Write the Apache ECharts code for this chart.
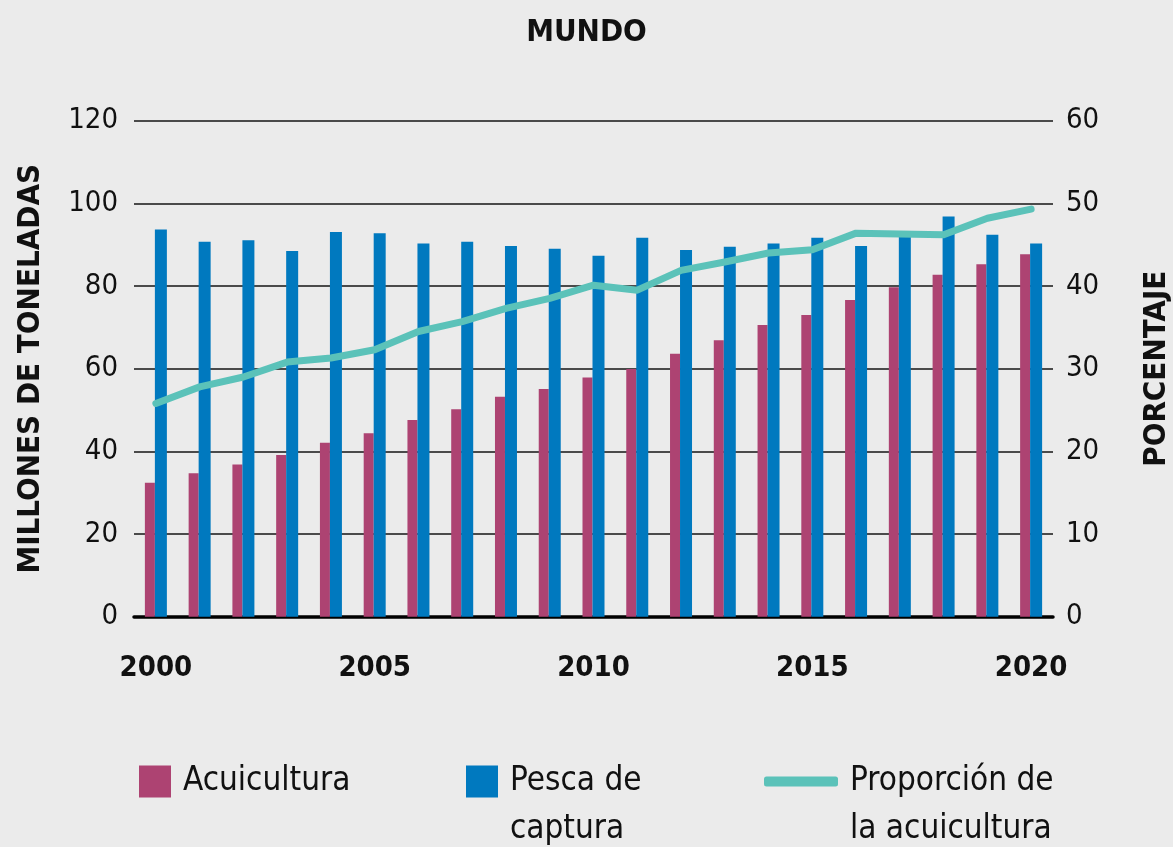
<!DOCTYPE html>
<html>
<head>
<meta charset="utf-8">
<title>Mundo</title>
<script src="https://cdn.jsdelivr.net/npm/echarts@6/dist/echarts.min.js"></script>
<style>
  html, body { margin: 0; padding: 0; background: #ebebeb; }
  #chart { width: 1173px; height: 847px; }
</style>
</head>
<body>
<div id="chart"></div>
<script>
// datos
const years = ['2000', '2001', '2002', '2003', '2004', '2005', '2006', '2007', '2008', '2009', '2010',
  '2011', '2012', '2013', '2014', '2015', '2016', '2017', '2018', '2019', '2020']
const acuicultura = [32.4, 34.7, 36.8, 39.1, 42.1, 44.4, 47.6, 50.2, 53.2, 55.1, 57.9,
  59.9, 63.6, 66.9, 70.6, 73.0, 76.6, 79.7, 82.7, 85.3, 87.7]
const pesca = [93.7, 90.7, 91.1, 88.5, 93.1, 92.8, 90.3, 90.7, 89.7, 89.0, 87.3,
  91.7, 88.7, 89.5, 90.3, 91.7, 89.7, 93.2, 96.8, 92.4, 90.3]
const proporcion = [25.8, 27.8, 29.0, 30.8, 31.3, 32.3, 34.5, 35.7, 37.3, 38.5, 40.1,
  39.5, 41.9, 42.9, 44.0, 44.4, 46.4, 46.3, 46.2, 48.2, 49.3]

const font = '"Liberation Sans Narrow", "DejaVu Sans Condensed", sans-serif'
const pink = '#ad4372'
const blue = '#0079bf'
const teal = '#5bc2b9'
const legendSize = 33

let myChart = echarts.init(document.getElementById('chart'))

function legendText() {
  return { fontFamily: font, fontSize: legendSize, color: '#111', padding: [0, 0, 0, 7] }
}

// segunda linea de las leyendas de dos lineas
function secondLine(text, x) {
  return {
    type: 'text', left: x, top: 813,
    style: { text: text, fontFamily: font, fontSize: legendSize, fill: '#111' }
  }
}

myChart.setOption({
  backgroundColor: '#ebebeb',
  animation: false,
  title: {
    text: 'MUNDO', left: 'center', top: 12,
    textStyle: { fontFamily: font, fontSize: 31, fontWeight: 'bold', color: '#111' }
  },
  legend: [
    {
      data: [{ name: 'Acuicultura', icon: 'rect' }],
      left: 134, top: 760, itemWidth: 32, itemHeight: 32,
      selectedMode: false, textStyle: legendText()
    },
    {
      data: [{ name: 'Pesca de captura', icon: 'rect' }],
      formatter: function () { return 'Pesca de' },
      left: 461, top: 760, itemWidth: 32, itemHeight: 32,
      selectedMode: false, textStyle: legendText()
    },
    {
      data: [{ name: 'Proporción de la acuicultura', icon: 'roundRect' }],
      formatter: function () { return 'Proporción de' },
      left: 759, top: 760, itemWidth: 74, itemHeight: 10,
      selectedMode: false, textStyle: legendText()
    }
  ],
  graphic: [
    secondLine('captura', 510),
    secondLine('la acuicultura', 850)
  ],
  grid: { left: 134, right: 120, top: 120.7, bottom: 230.3, outerBoundsMode: 'none' },
  xAxis: {
    type: 'category',
    data: years,
    axisTick: { show: false },
    axisLine: { lineStyle: { color: '#000', width: 3.5 } },
    axisLabel: {
      interval: 4, margin: 37,
      fontFamily: font, fontSize: 29, fontWeight: 'bold', color: '#111'
    }
  },
  yAxis: [
    {
      type: 'value', min: 0, max: 120, interval: 20,
      name: 'MILLONES DE TONELADAS', nameLocation: 'middle', nameRotate: 90, nameGap: 88,
      nameTextStyle: { fontFamily: font, fontSize: 31, fontWeight: 'bold', color: '#111' },
      axisLine: { show: false }, axisTick: { show: false },
      axisLabel: { margin: 16, fontFamily: font, fontSize: 29, color: '#111' },
      splitLine: { lineStyle: { color: '#4a4a4a', width: 2 } }
    },
    {
      type: 'value', min: 0, max: 60, interval: 10, position: 'right',
      name: 'PORCENTAJE', nameLocation: 'middle', nameRotate: 90, nameGap: 88,
      nameTextStyle: { fontFamily: font, fontSize: 31, fontWeight: 'bold', color: '#111' },
      axisLine: { show: false }, axisTick: { show: false },
      axisLabel: { margin: 13, fontFamily: font, fontSize: 29, color: '#111' },
      splitLine: { show: false }
    }
  ],
  series: [
    {
      name: 'Acuicultura', type: 'bar', data: acuicultura,
      barWidth: 10, barGap: '0%', itemStyle: { color: pink }
    },
    {
      name: 'Pesca de captura', type: 'bar', data: pesca,
      barWidth: 12, barGap: '0%', itemStyle: { color: blue }
    },
    {
      name: 'Proporción de la acuicultura', type: 'line', yAxisIndex: 1, data: proporcion,
      showSymbol: false, symbol: 'none',
      itemStyle: { color: teal },
      lineStyle: { color: teal, width: 7, cap: 'round', join: 'round' }
    }
  ]
})
window.addEventListener('resize', function () {
  myChart.resize()
})
</script>
</body>
</html>
